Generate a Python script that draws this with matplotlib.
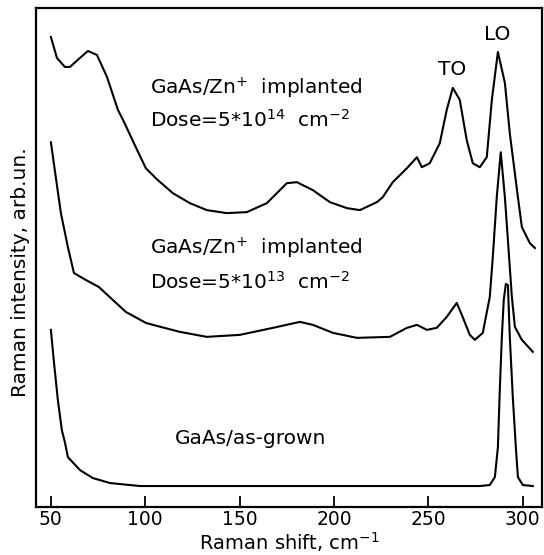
import matplotlib
matplotlib.use("Agg")
import matplotlib.pyplot as plt
import numpy as np

# Raman spectra (shift in cm^-1, intensity in arb. units 0..100)
shift_14 = [50.0, 53.2, 57.4, 60.1, 65.4, 69.6, 74.4, 79.7, 85.5, 88.7, 94.5, 100.3,
            106.1, 114.6, 123.6, 132.6, 143.2, 153.8, 164.4, 175.0, 180.3, 188.8,
            197.8, 206.8, 213.7, 222.7, 225.8, 231.1, 238.6, 243.9, 246.5, 250.7,
            256.0, 259.7, 262.9, 266.6, 270.3, 273.5, 277.2, 280.9, 283.6, 286.8,
            290.5, 293.1, 297.4, 299.5, 303.7, 306.4]
inten_14 = [94.2, 90.0, 88.2, 88.2, 90.0, 91.4, 90.6, 86.2, 79.6, 77.2, 72.5, 67.9,
            65.7, 62.9, 60.9, 59.5, 58.9, 59.1, 60.9, 64.9, 65.1, 63.5,
            61.1, 59.9, 59.5, 61.1, 62.1, 65.1, 67.9, 70.1, 68.1, 68.9,
            72.9, 79.6, 84.0, 81.6, 73.5, 68.9, 68.1, 70.1, 81.6, 91.2,
            85.0, 74.9, 62.1, 56.1, 52.9, 51.9]

shift_13 = [50.0, 52.6, 55.3, 59.0, 62.2, 68.5, 75.4, 82.8, 89.7, 100.3, 106.1, 118.3,
            132.6, 150.1, 167.6, 181.9, 188.8, 199.4, 212.1, 229.6, 238.6, 243.9,
            249.2, 254.4, 259.7, 265.0, 267.7, 271.9, 274.6, 278.8, 282.5, 284.1,
            286.2, 288.3, 290.5, 292.1, 294.2, 295.8, 299.5, 305.3]
inten_13 = [73.1, 66.1, 58.9, 52.1, 46.9, 45.5, 44.1, 41.5, 39.1, 36.9, 36.3, 35.1,
            34.1, 34.5, 35.9, 37.1, 36.5, 34.9, 33.9, 34.1, 35.9, 36.5,
            35.5, 35.9, 38.1, 40.9, 38.5, 34.5, 33.5, 34.9, 42.1, 50.1,
            62.1, 71.1, 62.1, 53.5, 42.1, 36.1, 33.5, 31.1]

shift_grown = [50.0, 51.6, 53.7, 55.8, 57.4, 59.0, 65.4, 72.2, 81.3, 97.1, 180.0,
               230.0, 277.2, 282.5, 285.2, 286.8, 287.8, 288.9, 289.9, 291.0, 292.1,
               293.1, 294.7, 296.3, 297.4, 300.0, 305.3]
inten_grown = [35.5, 29.1, 21.4, 15.4, 13.0, 10.0, 7.4, 5.8, 4.8, 4.2, 4.2,
               4.2, 4.2, 4.4, 6.0, 12.0, 23.4, 34.1, 41.5, 44.7, 44.5,
               34.1, 22.0, 12.0, 6.0, 4.4, 4.2]

xticks = [50, 100, 150, 200, 250, 300]

fig = plt.figure(figsize=(5.44, 5.55), dpi=100)
ax = fig.add_axes([0.066, 0.0865, 0.930, 0.899])

for s, i in [(shift_14, inten_14), (shift_13, inten_13), (shift_grown, inten_grown)]:
    ax.plot(s, i, color="black", lw=1.5, solid_joinstyle="round")

ax.set_xlim(42.06, 310.07)
ax.set_ylim(0, 100)
ax.set_xticks(xticks)
ax.set_yticks([])
ax.tick_params(axis="x", direction="in", length=8, width=1.3, labelsize=13.5, pad=2)
for sp in ax.spines.values():
    sp.set_linewidth(1.6)

ax.set_xlabel(r"Raman shift, cm$^{\mathregular{-1}}$", fontsize=14, labelpad=1)
ax.set_ylabel("Raman intensity, arb.un.", fontsize=14.5)
ax.yaxis.set_label_coords(-0.012, 0.47)

fs = 14.5
ax.text(102.4, 84.0, r"GaAs/Zn$^{\mathregular{+}}$  implanted", fontsize=fs, va="center")
ax.text(102.4, 77.6, r"Dose=5*10$^{\mathregular{14}}$  cm$^{\mathregular{-2}}$", fontsize=fs, va="center")
ax.text(102.4, 51.9, r"GaAs/Zn$^{\mathregular{+}}$  implanted", fontsize=fs, va="center")
ax.text(102.4, 45.1, r"Dose=5*10$^{\mathregular{13}}$  cm$^{\mathregular{-2}}$", fontsize=fs, va="center")
ax.text(115.7, 13.8, "GaAs/as-grown", fontsize=fs, va="center")
ax.text(262.4, 87.6, "TO", fontsize=fs, ha="center", va="center")
ax.text(286.2, 94.6, "LO", fontsize=fs, ha="center", va="center")

fig.savefig("out.png", dpi=100)
